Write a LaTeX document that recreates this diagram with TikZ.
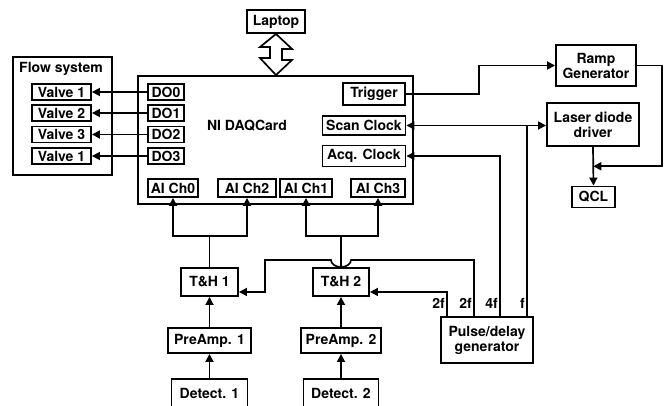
\documentclass[tikz,border=0pt]{standalone}
\usepackage{fontspec}
\setmainfont{TeX Gyre Heros}
\usetikzlibrary{arrows.meta,calc}
\begin{document}
\begin{tikzpicture}[x=1pt,y=-1pt,
  txt/.style={font=\bfseries\fontsize{14}{15}\selectfont},
  box/.style={txt,draw,line width=1.9pt,inner sep=0pt,align=center},
  wire/.style={line width=1.7pt},
  tip/.tip={Triangle[length=8pt,width=8pt]},
  arr/.style={wire,-tip},
  lbl/.style={txt,inner sep=0pt}]
\useasboundingbox (0,0) rectangle (667,405);
\clip (0,0) rectangle (667,405);
% main boxes
\node[box,minimum width=58,minimum height=23] (laptop) at (276,21.5) {Laptop};
\node[box,minimum width=275,minimum height=128] (daq) at (275.5,140) {};
\node[lbl] (daqlbl) at (247,126) {NI DAQCard};
\node[box,minimum width=99,minimum height=118] (flow) at (62.5,116) {};
\node[lbl] (flowlbl) at (61,69) {Flow system};
% valves
\node[box,minimum width=59,minimum height=16] (v1) at (61.5,92) {Valve 1};
\node[box,minimum width=59,minimum height=16] (v2) at (61.5,113) {Valve 2};
\node[box,minimum width=59,minimum height=16] (v3) at (61.5,134.5) {Valve 3};
\node[box,minimum width=59,minimum height=16] (v4) at (61.5,156) {Valve 1};
% DO
\node[box,minimum width=36,minimum height=16] (do0) at (166,92) {DO0};
\node[box,minimum width=36,minimum height=16] (do1) at (166,113) {DO1};
\node[box,minimum width=36,minimum height=16] (do2) at (166,134.5) {DO2};
\node[box,minimum width=36,minimum height=16] (do3) at (166,156) {DO3};
% AI
\node[box,minimum width=50,minimum height=18] (ai0) at (173,188) {AI Ch0};
\node[box,minimum width=58,minimum height=18] (ai2) at (247,188) {AI Ch2};
\node[box,minimum width=52,minimum height=18] (ai1) at (306,188) {AI Ch1};
\node[box,minimum width=54,minimum height=18] (ai3) at (378,188) {AI Ch3};
% right side of card
\node[box,minimum width=62,minimum height=22] (trig) at (374,94) {Trigger};
\node[box,minimum width=83,minimum height=19] (scan) at (364,125.5) {Scan Clock};
\node[box,minimum width=83,minimum height=21] (acq) at (364,156) {Acq. Clock};
% laser side
\node[box,minimum width=80,minimum height=41] (ramp) at (596,65.5) {Ramp\\Generator};
\node[box,minimum width=92,minimum height=43] (ldd) at (593,124.5) {Laser diode\\driver};
\node[box,minimum width=43,minimum height=21] (qcl) at (593.5,197) {QCL};
% lower chain
\node[box,minimum width=57,minimum height=28] (th1) at (209.5,282) {T\&H 1};
\node[box,minimum width=56,minimum height=28] (th2) at (341,282) {T\&H 2};
\node[box,minimum width=83,minimum height=25] (pre1) at (209.5,340.5) {PreAmp. 1};
\node[box,minimum width=80,minimum height=25] (pre2) at (341,340.5) {PreAmp. 2};
\node[box,minimum width=76,minimum height=28] (det1) at (209.5,393) {Detect. 1};
\node[box,minimum width=75,minimum height=28] (det2) at (341,393) {Detect. 2};
\node[box,minimum width=92,minimum height=46] (pulse) at (487,340) {Pulse/delay\\generator};
% laptop double arrow
\draw[line width=1.7pt,fill=white] (laptop.south)
  -- ++(16,15) -- ++(-10,0) -- ++(0,11) -- ++(10,0)
  -- (laptop.south |- daq.north) -- ++(-16,-17) -- ++(10,0) -- ++(0,-11) -- ++(-10,0) -- cycle;
% DO -> valves
\foreach \d/\v in {do0/v1,do1/v2,do2/v3,do3/v4}
  \draw[arr] (\d.west) -- (\d.west -| \v.east);
% trigger -> ramp
\draw[arr] (trig.east) -- ++(73,0) |- (ramp.west);
% ramp -> QCL line
\coordinate (jq) at ($(ldd.south)!0.5!(qcl.north)$);
\draw[arr] (ramp.east) -- ++(25,0) |- (jq);
\draw[arr] (ldd.south) -- (qcl.north);
% scan clock <-> ldd
\draw[wire,tip-tip] (scan.east) -- (scan.east -| ldd.west);
% pulse outputs
\coordinate (pf) at ($(pulse.north east)+(-7,0)$);
\coordinate (p4) at ($(pulse.north east)+(-34,0)$);
\coordinate (p2b) at ($(pulse.north east)+(-60,0)$);
\coordinate (p2a) at ($(pulse.north west)+(7,0)$);
\draw[wire] (pf) -- (pf |- scan.east);
\draw[arr] (p4) |- (acq.east);
\coordinate (th2in) at ($(th2.south east)+(0,-5)$);
\coordinate (th1in) at ($(th1.south east)+(0,-5)$);
\draw[arr] (p2a) |- (th2in);
\coordinate (hop) at ($(th2.north)+(0,-7)$);
\draw[arr] (p2b) |- ($(hop)+(10,0)$) arc[start angle=0,end angle=180,x radius=10,y radius=7]
  -- ($(hop)+(-76,0)$) |- (th1in);
\node[lbl,anchor=base east] (l1) at ($(p2a)+(-2,-8)$) {2f};
\node[lbl,anchor=base east] (l2) at ($(p2b)+(-2,-8)$) {2f};
\node[lbl,anchor=base east] (l3) at ($(p4)+(-2,-8)$) {4f};
\node[lbl,anchor=base east] (l4) at ($(pf)+(-2,-8)$) {f};
% T&H -> AI
\draw[wire] (th1.north) -- ++(0,-31) coordinate (b1);
\draw[arr] (b1) -| (ai0.south);
\draw[arr] (b1) -| (ai2.south);
\draw[wire] (th2.north) -- ++(0,-31) coordinate (b2);
\draw[arr] (b2) -| (ai1.south);
\draw[arr] (b2) -| (ai3.south);
% chain arrows
\draw[arr] (pre1.north) -- (th1.south);
\draw[arr] (pre2.north) -- (th2.south);
\draw[arr] (det1.north) -- (pre1.south);
\draw[arr] (det2.north) -- (pre2.south);
\end{tikzpicture}
\end{document}
